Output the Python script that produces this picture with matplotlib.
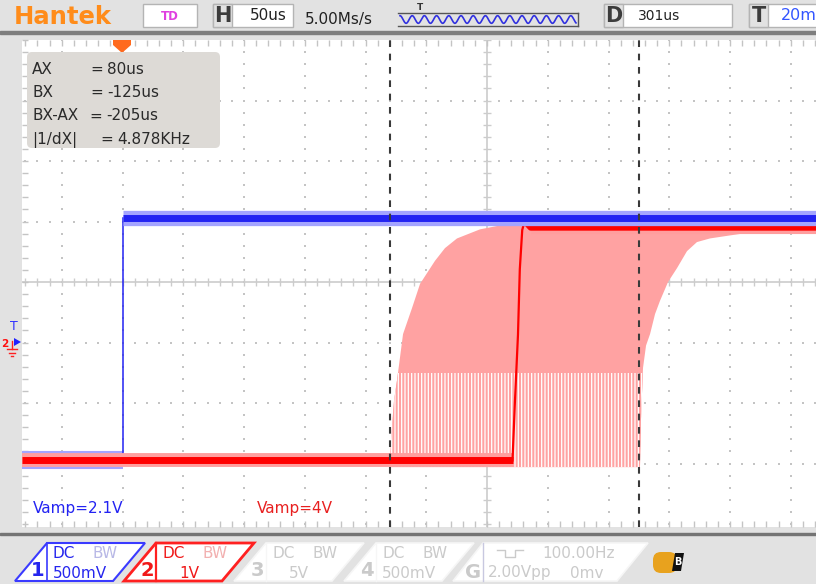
import matplotlib.pyplot as plt
from matplotlib.patches import Rectangle, Polygon, FancyBboxPatch
import numpy as np

plt.rcParams['font.family'] = ['DejaVu Sans']
plt.rcParams['hatch.linewidth'] = 0.9

W, H = 816, 584

# scope settings
TIME_DIV = 50.0          # us / div
CH1_VDIV = 0.5           # V / div
CH2_VDIV = 1.0
CH1_POS = -2.95          # ground level in divisions
CH2_POS = -2.95

# screen geometry in pixels
SCR_L, SCR_T, SCR_R, SCR_B = 22, 40, 816, 527
CX, CY = 487, 281
DIV = 60.75

# CH1 (blue): time us, volts
ch1_t = [-383, -300, -300, 271]
ch1_v = [0.0, 0.0, 2.0, 2.0]

# CH2 (red) last acquisition
ch2_t = [-383, 21.0, 23.0, 25.5, 27.0, 29.0, 31.0, 36.0, 271]
ch2_v = [0.0, 0.0, 0.98, 2.08, 3.16, 3.81, 3.96, 3.85, 3.85]

# CH2 persistence envelope: earliest and latest rising edge
early_t = [-79.8, -79.0, -76.5, -74.1, -69.1, -61.7, -55.1, -42.8, -34.6, -24.7, -5.8, 24.7]
early_v = [-0.11, 0.33, 0.99, 1.32, 2.09, 2.52, 2.92, 3.30, 3.51, 3.67, 3.82, 3.94]
late_t = [125.9, 126.7, 128.4, 130.9, 134.2, 138.3, 142.4, 149.0, 156.4, 164.6,
          172.8, 183.5, 200.0, 214.0, 232.9, 251.9, 271.0]
late_v = [-0.11, 0.66, 1.53, 1.90, 2.09, 2.42, 2.64, 2.95, 3.18, 3.46,
          3.61, 3.67, 3.72, 3.76, 3.79, 3.82, 3.84]
persist_top = 3.94
sparse_below = 1.45      # lower part of the persistence is only partly lit

# cursors (scope reports them from screen centre, positive to the left)
cursor_ax = 80
cursor_bx = -125

ch1_vamp = 2.1
ch2_vamp = 4

BLUE = '#2323F2'
BLUE_HALO = '#A4A4FF'
RED = '#FF0000'
RED_HALO = '#FF9E9E'
PINK = '#FFA2A2'
GRID = '#C4C4C4'


def ch1(v):
    return np.asarray(v) / CH1_VDIV + CH1_POS


def ch2(v):
    return np.asarray(v) / CH2_VDIV + CH2_POS


fig = plt.figure(figsize=(W / 100, H / 100), dpi=100, facecolor='#E2E2E2')

# ---- scope screen ----
ax = fig.add_axes([SCR_L / W, 1 - SCR_B / H, (SCR_R - SCR_L) / W, (SCR_B - SCR_T) / H])
ax.set_facecolor('white')
ax.set_xlim((SCR_L - CX) / DIV * TIME_DIV, (SCR_R - CX) / DIV * TIME_DIV)
ax.set_ylim((CY - SCR_B) / DIV, (CY - SCR_T) / DIV)
for s in ax.spines.values():
    s.set_visible(False)

t_lo, t_hi = ax.get_xlim()
sub_t = np.arange(np.ceil(t_lo / 10) * 10, t_hi, 10)
sub_y = np.arange(-4, 4.01, 0.2)
ax.set_xticks(sub_t)
ax.set_yticks(sub_y)
ax.tick_params(direction='in', length=4, width=1, color=GRID, top=True, bottom=True,
               left=True, right=False, labelbottom=False, labelleft=False)

# dotted graticule
for k in range(-7, 6):
    if k:
        ax.scatter(np.full_like(sub_y, k * TIME_DIV), sub_y, s=1.2, marker='s',
                   color=GRID, linewidths=0, zorder=1)
for k in range(-3, 4):
    if k:
        ax.scatter(sub_t, np.full_like(sub_t, k), s=1.2, marker='s',
                   color=GRID, linewidths=0, zorder=1)

# centre cross with ticks
ax.axhline(0, color='#CCCCCC', lw=1.2, zorder=1)
ax.axvline(0, color='#CCCCCC', lw=1.2, zorder=1)
ax.scatter(np.zeros_like(sub_y), sub_y, marker='_', s=30, color='#CCCCCC', lw=1, zorder=1)
ax.scatter(sub_t, np.zeros_like(sub_t), marker='|', s=30, color='#CCCCCC', lw=1, zorder=1)

# persistence of CH2
env_t = early_t + [t_hi, t_hi] + late_t[::-1]
env_v = early_v + [persist_top, late_v[-1]] + late_v[::-1]
env = ax.fill(env_t, ch2(env_v), color=PINK, lw=0, zorder=2)[0]
streaks = Rectangle((early_t[0], ch2(early_v[0])), late_t[0] - early_t[0] + 10,
                    ch2(sparse_below) - ch2(early_v[0]), fc=PINK, ec='white',
                    hatch='|||||', lw=0, zorder=2)
ax.add_patch(streaks)
streaks.set_clip_path(env)

# CH1 trace
ax.plot(ch1_t[:2], ch1(ch1_v[:2]), color=BLUE_HALO, lw=13, solid_capstyle='butt', zorder=3)
ax.plot(ch1_t[:2], ch1(ch1_v[:2]), color=BLUE, lw=4, solid_capstyle='butt', zorder=3)
ax.plot(ch1_t[1:3], ch1(ch1_v[1:3]), color=BLUE, lw=1.1, zorder=3)

# CH2 trace
ax.plot(ch2_t[:2], ch2(ch2_v[:2]), color=RED_HALO, lw=10, solid_capstyle='butt', zorder=4)
ax.plot(ch2_t[:2], ch2(ch2_v[:2]), color=RED, lw=5, solid_capstyle='butt', zorder=4)
ax.plot(ch2_t[1:8], ch2(ch2_v[1:8]), color=RED, lw=1.6, zorder=4)
ax.plot(ch2_t[7:], ch2(ch2_v[7:]), color=RED_HALO, lw=8, solid_capstyle='butt', zorder=4)
ax.plot(ch2_t[6:], ch2(ch2_v[6:]), color=RED, lw=4.5, solid_capstyle='round', zorder=4)

# CH1 high level drawn over the persistence
ax.plot(ch1_t[2:], ch1(ch1_v[2:]), color=BLUE_HALO, lw=11, solid_capstyle='butt', zorder=5)
ax.plot(ch1_t[2:], ch1(ch1_v[2:]), color=BLUE, lw=5, solid_capstyle='butt', zorder=5)

# cursors
for c in (cursor_ax, cursor_bx):
    ax.axvline(-c, color='#3A3A3A', lw=1.5, ls=(0, (3.2, 3.2)), zorder=6)

# ---- overlay in pixel coordinates ----
ov = fig.add_axes([0, 0, 1, 1], zorder=10)
ov.set_xlim(0, W)
ov.set_ylim(H, 0)
ov.axis('off')
ov.patch.set_alpha(0)

# header
ov.add_patch(Rectangle((0, 30.5), W, 3, color='#7E7E7E'))
ov.text(14, 16.5, 'Hantek', color='#FF8C1A', fontsize=17.5, fontweight='bold', va='center')

ov.add_patch(Rectangle((143, 4), 54, 23, fc='white', ec='#B4B4B4', lw=1))
ov.text(170, 16, 'TD', color='#E040E0', fontsize=8.5, fontweight='bold', ha='center', va='center')


def letter_box(x, w, letter):
    ov.add_patch(Rectangle((x, 4), w, 23, fc='white', ec='#B4B4B4', lw=1))
    ov.add_patch(Rectangle((x, 4), 19, 23, fc='#E2E2E2', ec='#B4B4B4', lw=1))
    ov.text(x + 9.5, 16.5, letter, color='#3C3C3C', fontsize=15, fontweight='bold',
            ha='center', va='center')


letter_box(213, 80, 'H')
ov.text(287, 16, '50us', fontsize=11, ha='right', va='center', color='#222222')
ov.text(305, 19.5, '5.00Ms/s', fontsize=11, va='center', color='#222222')

# memory / waveform position strip
ov.plot([398, 578], [13, 13], color='#555555', lw=1)
ov.plot([398, 578], [25.5, 25.5], color='#555555', lw=1)
ov.plot([578, 578], [13, 25.5], color='#555555', lw=1)
wx = np.linspace(400, 576, 400)
ov.plot(wx, 19.5 - 3.8 * np.cos((wx - 400) / 12.2 * 2 * np.pi), color='#3030E0', lw=1.2)
ov.text(420, 7, 'T', fontsize=6.5, fontweight='bold', ha='center', va='center', color='#333333')

letter_box(604, 128, 'D')
ov.text(638, 16, '301us', fontsize=10, va='center', color='#222222')
letter_box(749, 80, 'T')
ov.text(781, 16, '20m', fontsize=11.5, va='center', color='#3355FF')

# trigger position marker
ov.add_patch(Polygon([(113, 40), (131, 40), (131, 45), (122, 53), (113, 45)],
                     closed=True, color='#FF6A1E', lw=0))

# left side markers: trigger level and CH2 ground
ov.text(14, 326, 'T', color='#3030FF', fontsize=9, ha='center', va='center')
ov.add_patch(Polygon([(14, 338), (21, 342), (14, 346)], closed=True, color='#2020FF', lw=0))
ov.text(5, 344, '2', color='#FF1010', fontsize=7.5, fontweight='bold', ha='center', va='center')
ov.plot([12, 12], [341, 349], color='#FF2020', lw=1)
ov.plot([7, 17], [349, 349], color='#FF2020', lw=1)
ov.plot([9, 15], [352.5, 352.5], color='#FF2020', lw=1)
ov.plot([11, 13], [356, 356], color='#FF2020', lw=1)

# cursor readout
ov.add_patch(FancyBboxPatch((27, 52), 193, 96, boxstyle='round,pad=0,rounding_size=5',
                            fc='#DDDAD6', ec='none'))
dx = cursor_bx - cursor_ax
rows = [('AX', 90, f'{cursor_ax}us'),
        ('BX', 90, f'{cursor_bx}us'),
        ('BX-AX', 89, f'{dx}us'),
        ('|1/dX|', 100, f'{1e3 / abs(dx):.3f}KHz')]
for i, (name, eq_x, val) in enumerate(rows):
    y = 69 + i * 23.5
    ov.text(32, y, name, fontsize=11, va='center', color='#2A2A2A')
    ov.text(eq_x, y, '=', fontsize=11, va='center', color='#2A2A2A')
    ov.text(eq_x + 17, y, val, fontsize=11, va='center', color='#2A2A2A')

ov.text(33, 508, f'Vamp={ch1_vamp}V', fontsize=11, va='center', color=BLUE)
ov.text(257, 508, f'Vamp={ch2_vamp}V', fontsize=11, va='center', color='#E82020')

# footer
ov.add_patch(Rectangle((0, 532.5), W, 2.5, color='#747474'))


def chan_box(x0, num, scale, edge, txt, bw, lw=1.2, width=98):
    ov.add_patch(Polygon([(x0, 581), (x0 + 32, 543), (x0 + 32 + width, 543), (x0 + width, 581)],
                         closed=True, fc='white', ec=edge, lw=lw))
    ov.plot([x0 + 32, x0 + 32], [543, 581], color=edge, lw=lw * 0.8)
    ov.text(x0 + 23, 571, num, fontsize=14, fontweight='bold', ha='center', va='center', color=txt)
    ov.text(x0 + 38, 553, 'DC', fontsize=11, va='center', color=txt)
    ov.text(x0 + 78, 553, 'BW', fontsize=11, va='center', color=bw)
    ov.text(x0 + 65, 573, scale, fontsize=11, ha='center', va='center', color=txt)


chan_box(15, '1', '500mV', '#3A3AFF', '#2525EE', '#B8B8E6', lw=1.5)
chan_box(124, '2', '1V', '#FF2020', '#F01818', '#F2B0B0', lw=2)
chan_box(234, '3', '5V', '#F6F6F6', '#CACACA', '#CACACA')
chan_box(344, '4', '500mV', '#F6F6F6', '#CACACA', '#CACACA')

# signal generator box
ov.add_patch(Polygon([(453, 581), (483, 543), (648, 543), (617, 581)],
                     closed=True, fc='white', ec='#F6F6F6', lw=1.2))
ov.plot([483, 483], [543, 581], color='#C8C8E0', lw=1)
ov.text(473, 572, 'G', fontsize=14, fontweight='bold', ha='center', va='center', color='#CACACA')
ov.plot([497, 505, 505, 515, 515, 523], [550, 550, 557, 557, 550, 550], color='#CACACA', lw=1)
ov.text(542, 553, '100.00Hz', fontsize=11, va='center', color='#CACACA')
ov.text(488, 573, '2.00Vpp', fontsize=11, va='center', color='#CACACA')
ov.text(570, 573, '0mv', fontsize=11, va='center', color='#CACACA')

# status icon
ov.add_patch(FancyBboxPatch((653, 552), 24, 21, boxstyle='round,pad=0,rounding_size=8',
                            fc='#E8A21E', ec='none'))
ov.add_patch(Polygon([(675, 553), (684, 553), (681, 571), (672, 571)], closed=True,
                     fc='#111111', lw=0))
ov.text(678, 562, 'B', fontsize=7, fontweight='bold', ha='center', va='center', color='white')

fig.savefig('out.png', dpi=100, facecolor=fig.get_facecolor())
